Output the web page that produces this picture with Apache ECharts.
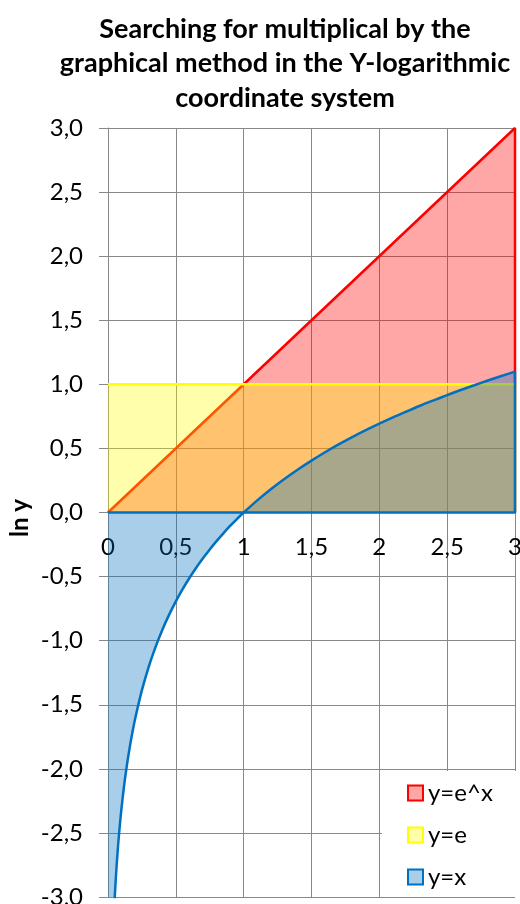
<!DOCTYPE html>
<html><head><meta charset="utf-8">
<script src="https://cdn.jsdelivr.net/npm/echarts@6/dist/echarts.min.js"></script>
<style>html,body{margin:0;padding:0;background:#fff}#c{width:520px;height:904px}</style>
</head><body><div id="c"></div>
<script>
const titleLines = ['Searching for multiplical by the', 'graphical method in the Y-logarithmic', 'coordinate system'];
const yAxisTitle = 'ln y';
const seriesNames = ['y=e^x', 'y=e', 'y=x'];
const lineColors = ['#FF0000', '#FFFF00', '#0070C0'];
const fillOpacity = [0.35, 0.33, 0.34];
const legendFills = ['#FFA6A6', '#FFFFAA', '#A8CEE8'];

// y = e^x  -> ln y = x
const expX = [0, 3];
const expLnY = [0, 3];
// y = e -> ln y = 1
const eX = [0, 3];
const eLnY = [1, 1];
// y = x -> ln y = ln x
const xX = [0.001, 0.01, 0.02, 0.03, 0.04, 0.05, 0.06, 0.07, 0.08, 0.09, 0.1, 0.12, 0.14, 0.16, 0.18, 0.2, 0.25, 0.3, 0.35, 0.4, 0.45, 0.5, 0.55, 0.6, 0.65, 0.7, 0.75, 0.8, 0.85, 0.9, 0.95, 1.0, 1.1, 1.2, 1.3, 1.4, 1.5, 1.6, 1.7, 1.8, 1.9, 2.0, 2.1, 2.2, 2.3, 2.4, 2.5, 2.6, 2.7, 2.8, 2.9, 3.0];
const xLnY = [-6.908, -4.605, -3.912, -3.507, -3.219, -2.996, -2.813, -2.659, -2.526, -2.408, -2.303, -2.120, -1.966, -1.833, -1.715, -1.609, -1.386, -1.204, -1.050, -0.916, -0.799, -0.693, -0.598, -0.511, -0.431, -0.357, -0.288, -0.223, -0.163, -0.105, -0.051, 0, 0.095, 0.182, 0.262, 0.336, 0.405, 0.470, 0.531, 0.588, 0.642, 0.693, 0.742, 0.788, 0.833, 0.875, 0.916, 0.956, 0.993, 1.030, 1.065, 1.099];

const xMin = 0, xMax = 3, yMin = -3, yMax = 3, step = 0.5, base = 0;

const pairs = (xs, ys) => xs.map((x, i) => [x, ys[i]]);
const last = a => a[a.length - 1];
const redData = pairs(expX, expLnY).concat([[last(expX), base]]);
const yellowData = pairs(eX, eLnY).concat([[last(eX), base]]);
const blueCurve = pairs(xX, xLnY);
const blueData = blueCurve.concat([[last(xX), base], [xMin, base]]);
const blueEdges = [[last(xX), last(xLnY)], [last(xX), base], [xMin, base]];

const FONT = 'Lato';
const common = { type: 'line', symbol: 'none', silent: true, animation: false };
const fill = (i, d) => Object.assign({}, common, {
  name: seriesNames[i], data: d, z: 2 + 2 * i,
  lineStyle: { width: 0, opacity: 0 },
  areaStyle: { color: lineColors[i], opacity: fillOpacity[i] }
});
const outline = (i, d, extra) => Object.assign({}, common, {
  name: seriesNames[i], data: d, z: 3 + 2 * i,
  lineStyle: { color: lineColors[i], width: 2.5 }
}, extra || {});

const series = [
  fill(0, redData), outline(0, redData),
  fill(1, yellowData), outline(1, yellowData),
  fill(2, blueData), outline(2, blueCurve, { smooth: 0.3 }), outline(2, blueEdges)
];

const gridTop = 128, gridBottom = 7, gridH = 904 - gridTop - gridBottom;
const zeroOffset = -gridH * (0 - yMin) / (yMax - yMin);

const chart = echarts.init(document.getElementById('c'), null, { renderer: 'canvas' });
chart.setOption({
  animation: false,
  backgroundColor: '#fff',
  color: lineColors,
  grid: { left: 108, right: 5, top: gridTop, bottom: gridBottom, containLabel: false, outerBoundsMode: 'none' },
  xAxis: {
    type: 'value', min: xMin, max: xMax, interval: step, position: 'bottom', offset: zeroOffset,
    axisLine: { onZero: false, lineStyle: { color: '#888', width: 1 } },
    axisTick: { show: true, length: 9, lineStyle: { color: '#888' } },
    axisLabel: { showMinLabel: true, showMaxLabel: true, margin: 23, fontSize: 24, fontFamily: FONT, color: '#000',
      formatter: v => String(v).replace('.', ',') },
    splitLine: { show: true, lineStyle: { color: '#888', width: 1 } }
  },
  yAxis: {
    type: 'value', min: yMin, max: yMax, interval: step,
    axisLine: { show: true, onZero: false, lineStyle: { color: '#888', width: 1 } },
    axisTick: { show: true, length: 9, lineStyle: { color: '#888' } },
    axisLabel: { showMinLabel: true, showMaxLabel: true, margin: 25, fontSize: 24, fontFamily: FONT, color: '#000',
      formatter: v => v.toFixed(1).replace('.', ',') },
    splitLine: { show: true, lineStyle: { color: '#888', width: 1 } }
  },
  legend: {
    orient: 'vertical', left: 382, top: 771, z: 20,
    backgroundColor: '#fff', padding: [10, 25, 8, 25],
    itemWidth: 15, itemHeight: 15, itemGap: 18, align: 'left',
    textStyle: { fontSize: 24, fontFamily: FONT, color: '#000' },
    selectedMode: false,
    data: seriesNames.map((n, i) => ({
      name: n, icon: 'rect',
      itemStyle: { color: legendFills[i], borderColor: lineColors[i], borderWidth: 2 }
    }))
  },
  graphic: [
    ...titleLines.map((t, i) => ({
      type: 'text', x: 285, y: 29 + i * 34.5, silent: true,
      style: { text: t, font: 'bold 27px ' + FONT, fill: '#000', textAlign: 'center', textVerticalAlign: 'middle' }
    })),
    {
      type: 'text', x: 20, y: 518, rotation: Math.PI / 2, silent: true,
      style: { text: yAxisTitle, font: 'bold 24px ' + FONT, fill: '#000', textAlign: 'center', textVerticalAlign: 'middle' }
    }
  ],
  series: series
});
</script></body></html>
